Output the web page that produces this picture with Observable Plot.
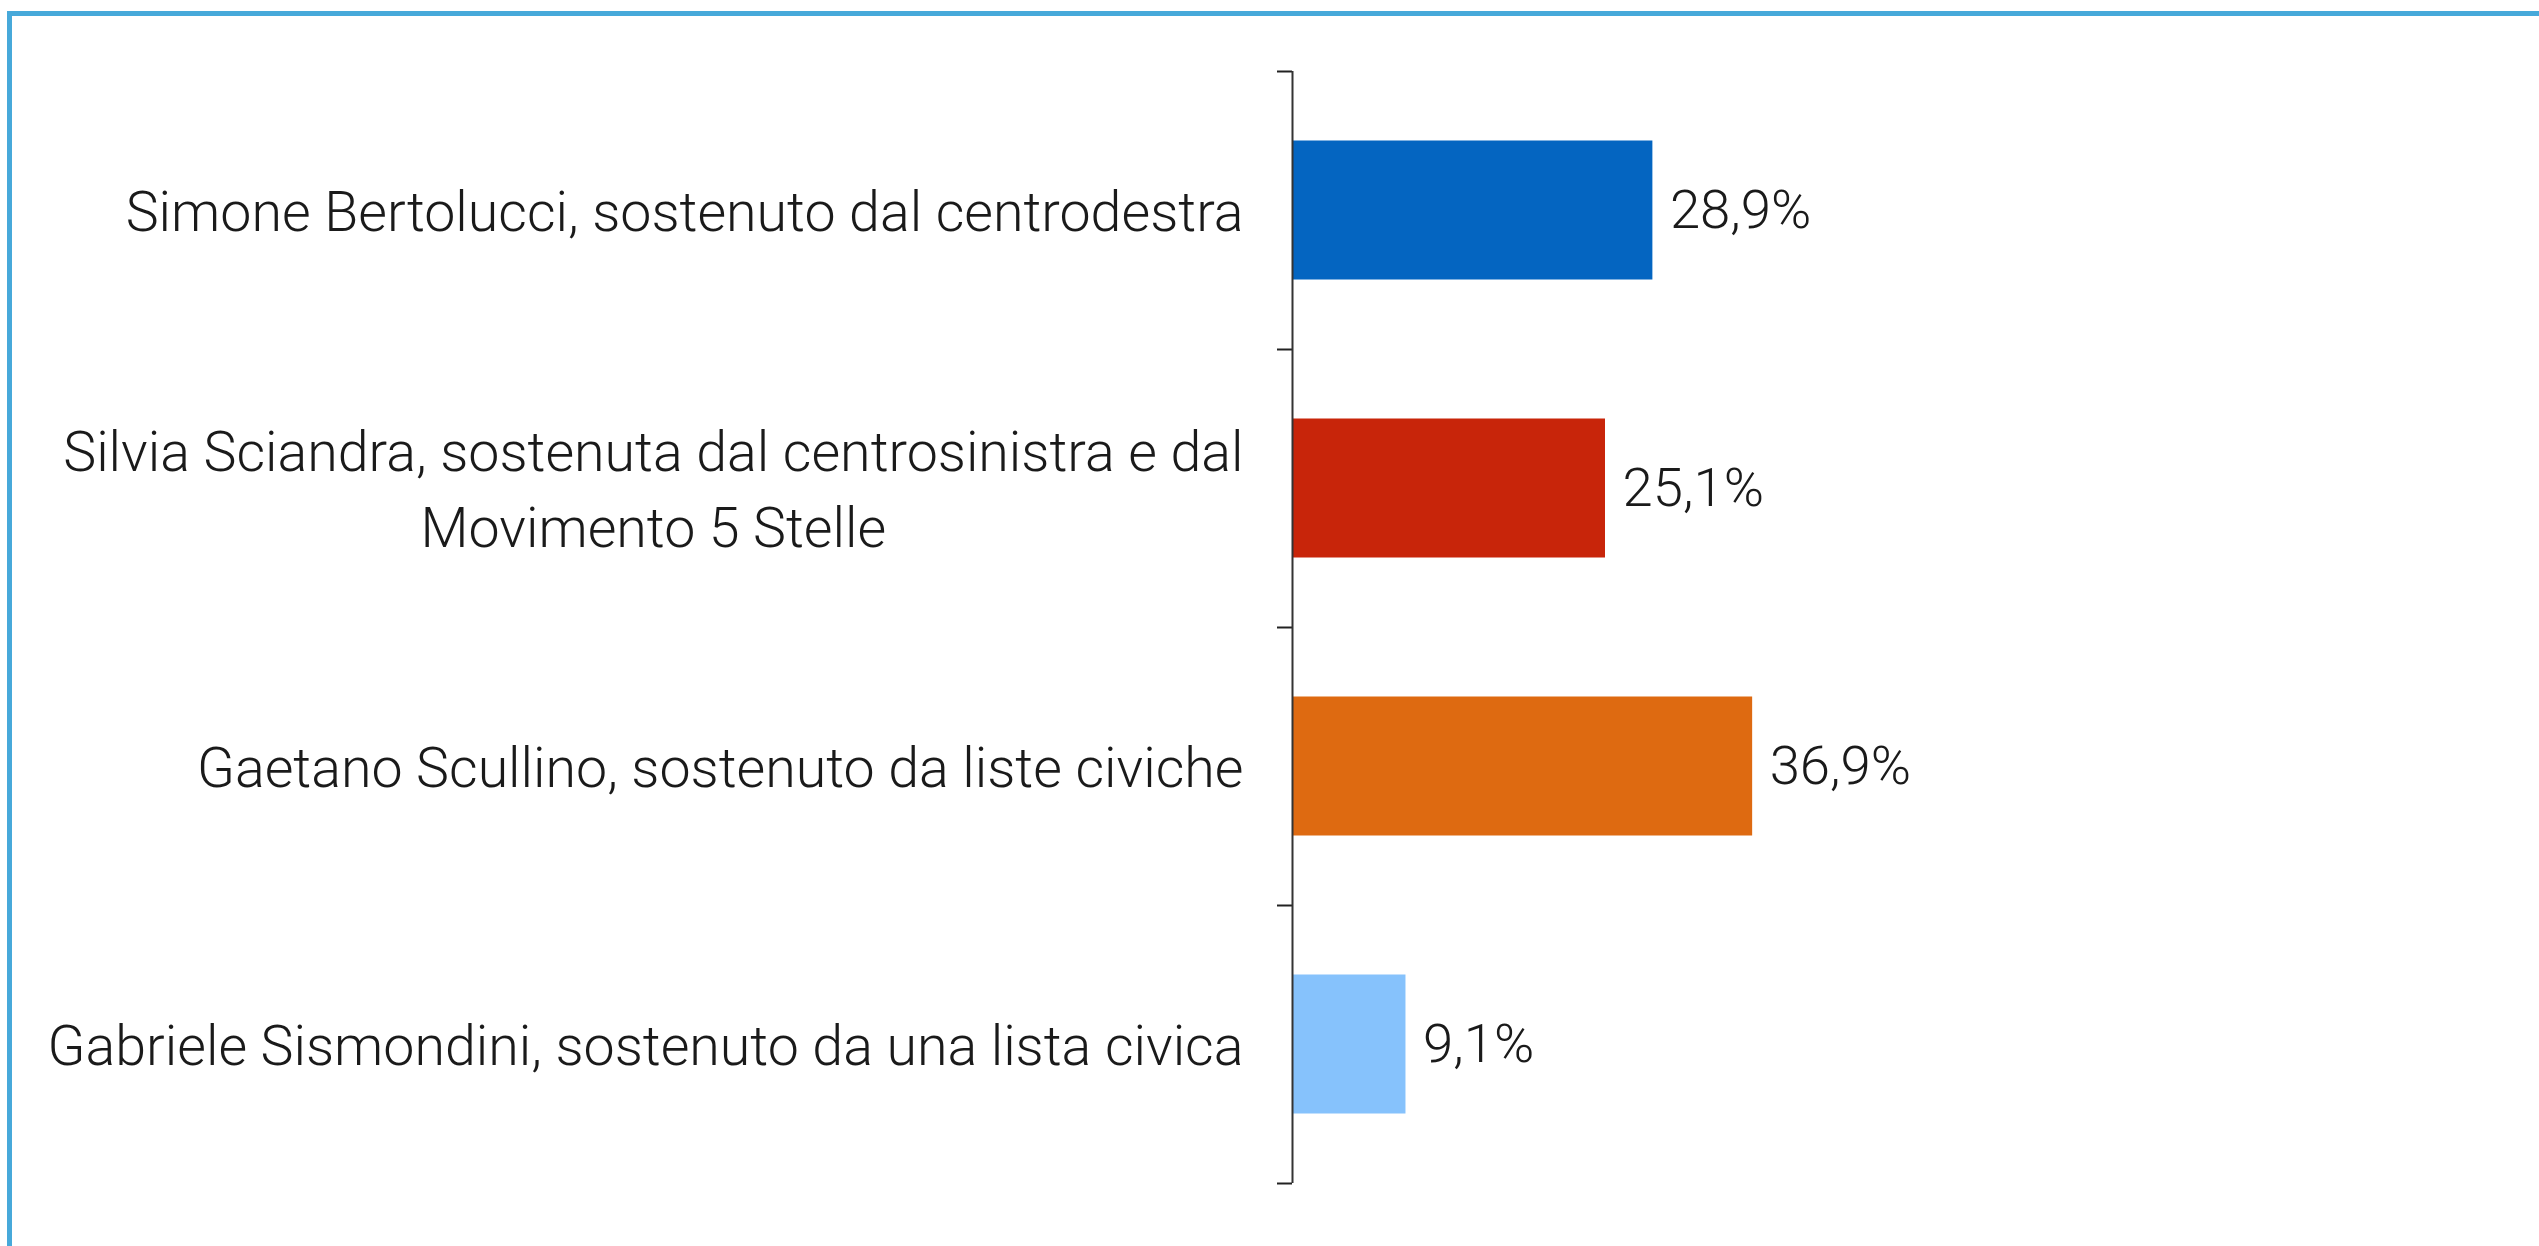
<!DOCTYPE html>
<html>
<head>
<meta charset="utf-8">
<script src="https://cdn.jsdelivr.net/npm/d3@7"></script>
<script src="https://cdn.jsdelivr.net/npm/@observablehq/plot@0.6"></script>
<style>
  html, body { margin: 0; padding: 0; background: #fff; }
  #wrap { position: relative; width: 2539px; height: 1246px; overflow: hidden; }
  #frame { position: absolute; left: 7px; top: 11px; width: 2600px; height: 1300px;
           border-top: 5px solid #47a9da; border-left: 5px solid #47a9da; }
  #chart { position: absolute; left: 0; top: 0; }
</style>
</head>
<body>
<div id="wrap"><div id="frame"></div><div id="chart"></div></div>
<script>
const candidates = [
  "Simone Bertolucci, sostenuto dal centrodestra",
  "Silvia Sciandra, sostenuta dal centrosinistra e dal\nMovimento 5 Stelle",
  "Gaetano Scullino, sostenuto da liste civiche",
  "Gabriele Sismondini, sostenuto da una lista civica"
];
const values = [28.9, 25.1, 36.9, 9.1];
const colors = ["#0465c1", "#c8250a", "#de6a11", "#86c2fc"];

const rows = candidates.map((name, i) => ({idx: i, name, value: values[i], color: colors[i]}));
const boundaries = d3.range(candidates.length + 1).map(i => i - 0.5);
const itFormat = d3.formatLocale({decimal: ",", thousands: ".", grouping: [3], currency: ["", "€"]}).format(".1f");

const FONT = "Roboto, 'Noto Sans', sans-serif";

const chart = Plot.plot({
  width: 2539,
  height: 1246,
  marginLeft: 1292,
  marginRight: 0,
  marginTop: 71,
  marginBottom: 63,
  style: {fontFamily: FONT, fontWeight: 300, background: "transparent", color: "#1a1a1a"},
  x: {domain: [0, 100], axis: null},
  y: {domain: [-0.5, candidates.length - 0.5], reverse: true, label: null},
  color: {type: "identity"},
  marks: [
    Plot.rectX(rows, {x1: 0, x2: "value", y1: d => d.idx - 0.25, y2: d => d.idx + 0.25, fill: "color"}),
    Plot.axisY({ticks: boundaries, tickSize: 15, tickFormat: () => "", label: null, stroke: "#222", strokeWidth: 2}),
    Plot.axisY({ticks: d3.range(candidates.length), tickSize: 0, tickPadding: 49, label: null,
                tickFormat: i => candidates[i], fontSize: 55.5, lineHeight: 1.38, dy: -4,
                fill: "#1a1a1a", fontWeight: 300}),
    Plot.ruleX([0], {y1: -0.5, y2: candidates.length - 0.5, stroke: "#333", strokeWidth: 2}),
    Plot.text(rows, {x: "value", y: "idx", text: d => itFormat(d.value) + "%", textAnchor: "start",
                     dx: 17, fontSize: 54.5, fill: "#1a1a1a", fontWeight: 300})
  ]
});

document.getElementById("chart").appendChild(chart);

// Centre the lines of multi-line labels relative to each other, keeping the block right-aligned
chart.querySelectorAll("text").forEach(t => {
  const spans = t.querySelectorAll("tspan");
  if (spans.length > 1) {
    const W = Math.max(...[...spans].map(s => s.getComputedTextLength()));
    const x0 = +(t.getAttribute("x") || 0);
    t.setAttribute("text-anchor", "middle");
    spans.forEach(s => s.setAttribute("x", x0 - W / 2));
  }
});
</script>
</body>
</html>
